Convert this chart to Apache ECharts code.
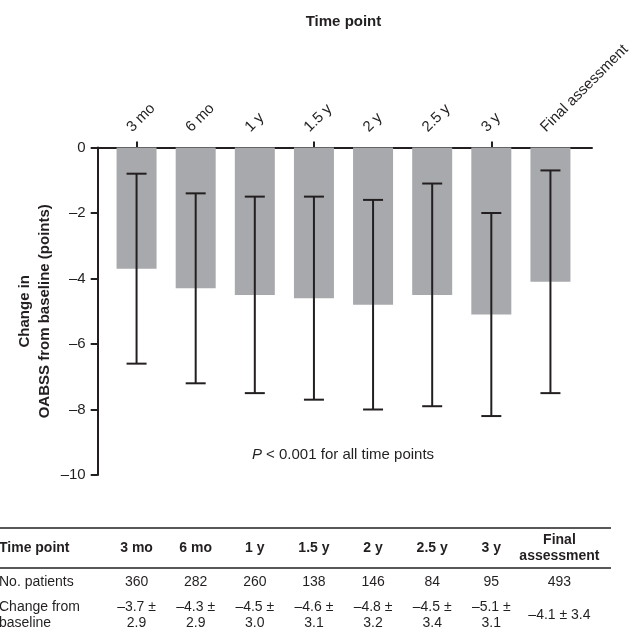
<!DOCTYPE html>
<html>
<head>
<meta charset="utf-8">
<script src="https://cdn.jsdelivr.net/npm/echarts@6/dist/echarts.min.js"></script>
<style>
  html, body { margin: 0; padding: 0; background: #fff; }
  #chart { width: 632px; height: 634px; }
</style>
</head>
<body>
<div id="chart"></div>
<script>
// data
const categories = ['3 mo', '6 mo', '1 y', '1.5 y', '2 y', '2.5 y', '3 y', 'Final assessment'];
const meanChange = [-3.7, -4.3, -4.5, -4.6, -4.8, -4.5, -5.1, -4.1];
const sdChange = [2.9, 2.9, 3.0, 3.1, 3.2, 3.4, 3.1, 3.4];
const patients = [360, 282, 260, 138, 146, 84, 95, 493];
const tableHeaders = ['3 mo', '6 mo', '1 y', '1.5 y', '2 y', '2.5 y', '3 y', 'Final\nassessment'];
const yTicks = [0, -2, -4, -6, -8, -10];

const INK = '#231f20';
const FONT = '"Liberation Sans", Arial, Helvetica, sans-serif';
const dash = (v) => String(v).replace('-', '\u2013');

const chart = echarts.init(document.getElementById('chart'), null, { renderer: 'canvas' });

// error bar = mean ± SD
const errData = categories.map((c, i) => [i, meanChange[i] - sdChange[i], meanChange[i] + sdChange[i]]);

const renderErr = (params, api) => {
  const top = api.coord([api.value(0), api.value(2)]);
  const bot = api.coord([api.value(0), api.value(1)]);
  const half = 10;
  const st = { stroke: INK, lineWidth: 2 };
  return {
    type: 'group',
    children: [
      { type: 'line', shape: { x1: top[0], y1: top[1], x2: bot[0], y2: bot[1] }, style: st },
      { type: 'line', shape: { x1: top[0] - half, y1: top[1], x2: top[0] + half, y2: top[1] }, style: st },
      { type: 'line', shape: { x1: bot[0] - half, y1: bot[1], x2: bot[0] + half, y2: bot[1] }, style: st }
    ]
  };
};

const option = {
  animation: false,
  backgroundColor: '#fff',
  textStyle: { fontFamily: FONT, color: INK },
  grid: [
    { left: 107, right: 52, top: 147.5, bottom: 159, outerBoundsMode: 'none' },
    // wider grid only used for the long x axis line
    { left: 92, right: 40, top: 147.5, bottom: 159, outerBoundsMode: 'none' }
  ],
  xAxis: [
    {
      type: 'category',
      gridIndex: 0,
      data: categories,
      position: 'top',
      axisLine: { show: false, onZero: false },
      axisTick: { show: true, alignWithLabel: true, length: 6, lineStyle: { color: INK, width: 2 } },
      // rotated labels are drawn below as graphic text so they can start left of the tick
      axisLabel: { show: false },
      name: 'Time point',
      nameLocation: 'middle',
      nameGap: 118,
      nameTextStyle: { fontWeight: 'bold', fontSize: 15, color: INK, fontFamily: FONT }
    },
    {
      type: 'value',
      gridIndex: 1,
      position: 'top',
      min: 0,
      max: 1,
      axisLine: { show: true, onZero: false, lineStyle: { color: INK, width: 2 } },
      axisTick: { show: false },
      axisLabel: { show: false },
      splitLine: { show: false }
    }
  ],
  yAxis: [
    {
      type: 'value',
      gridIndex: 0,
      min: -10,
      max: 0,
      interval: 2,
      offset: 9.3,
      axisLine: { show: true, lineStyle: { color: INK, width: 2 } },
      axisTick: { show: true, length: 7, lineStyle: { color: INK, width: 2 } },
      axisLabel: { fontSize: 15, color: INK, margin: 12, fontFamily: FONT, formatter: (v) => dash(v) },
      splitLine: { show: false },
      name: 'Change in\nOABSS from baseline (points)',
      nameLocation: 'middle',
      nameGap: 43,
      nameMoveOverlap: false,
      nameTextStyle: { fontWeight: 'bold', fontSize: 15, lineHeight: 20, color: INK, fontFamily: FONT }
    },
    { type: 'value', gridIndex: 1, min: -10, max: 0, show: false }
  ],
  series: [
    {
      type: 'bar',
      xAxisIndex: 0,
      yAxisIndex: 0,
      data: meanChange,
      barWidth: 40,
      itemStyle: { color: '#a7a9ac' },
      z: 2
    },
    {
      type: 'custom',
      xAxisIndex: 0,
      yAxisIndex: 0,
      data: errData,
      renderItem: renderErr,
      z: 3
    }
  ]
};

chart.setOption(option);

// category axis positions, reused for rotated labels and the table columns
const tickX = categories.map((c, i) => chart.convertToPixel({ xAxisIndex: 0 }, i));
const colX = tickX.map((x, i) => x + (i === categories.length - 1 ? 9 : 0));

const txt = (text, x, y, extra) => ({
  type: 'text',
  silent: true,
  style: Object.assign({
    text: text, x: x, y: y, align: 'center', verticalAlign: 'middle',
    fontSize: 14, fontFamily: FONT, fill: INK, lineHeight: 16
  }, extra || {})
});
const rule = (y) => ({
  type: 'line', silent: true,
  shape: { x1: 0, y1: y, x2: 611, y2: y },
  style: { stroke: INK, lineWidth: 1.5 }
});

const g = [];
// rotated category labels
tickX.forEach((x, i) => {
  g.push({
    type: 'text', silent: true,
    x: x - 2, y: 135,
    rotation: Math.PI / 4,
    style: { text: categories[i], x: 0, y: 0, align: 'left', verticalAlign: 'bottom', fontSize: 15, fontFamily: FONT, fill: INK }
  });
});
g.push({
  type: 'text', silent: true,
  style: {
    text: '{i|P} < 0.001 for all time points',
    x: 343, y: 455, align: 'center', verticalAlign: 'middle',
    fontSize: 15, fontFamily: FONT, fill: INK,
    rich: { i: { fontStyle: 'italic', fontSize: 15, fontFamily: FONT, fill: INK } }
  }
});
g.push(rule(528));
g.push(rule(568));
g.push(txt('Time point', -1, 548, { align: 'left', fontWeight: 'bold' }));
g.push(txt('No. patients', -1, 582, { align: 'left' }));
g.push(txt('Change from\nbaseline', -1, 615, { align: 'left' }));
colX.forEach((x, i) => {
  g.push(txt(tableHeaders[i], x, 548, { fontWeight: 'bold' }));
  g.push(txt(String(patients[i]), x, 582));
  const last = i === categories.length - 1;
  const cell = last
    ? dash(meanChange[i].toFixed(1)) + ' \u00b1 ' + sdChange[i].toFixed(1)
    : dash(meanChange[i].toFixed(1)) + ' \u00b1\n' + sdChange[i].toFixed(1);
  g.push(txt(cell, x, 615));
});

chart.setOption({ graphic: g });
</script>
</body>
</html>
